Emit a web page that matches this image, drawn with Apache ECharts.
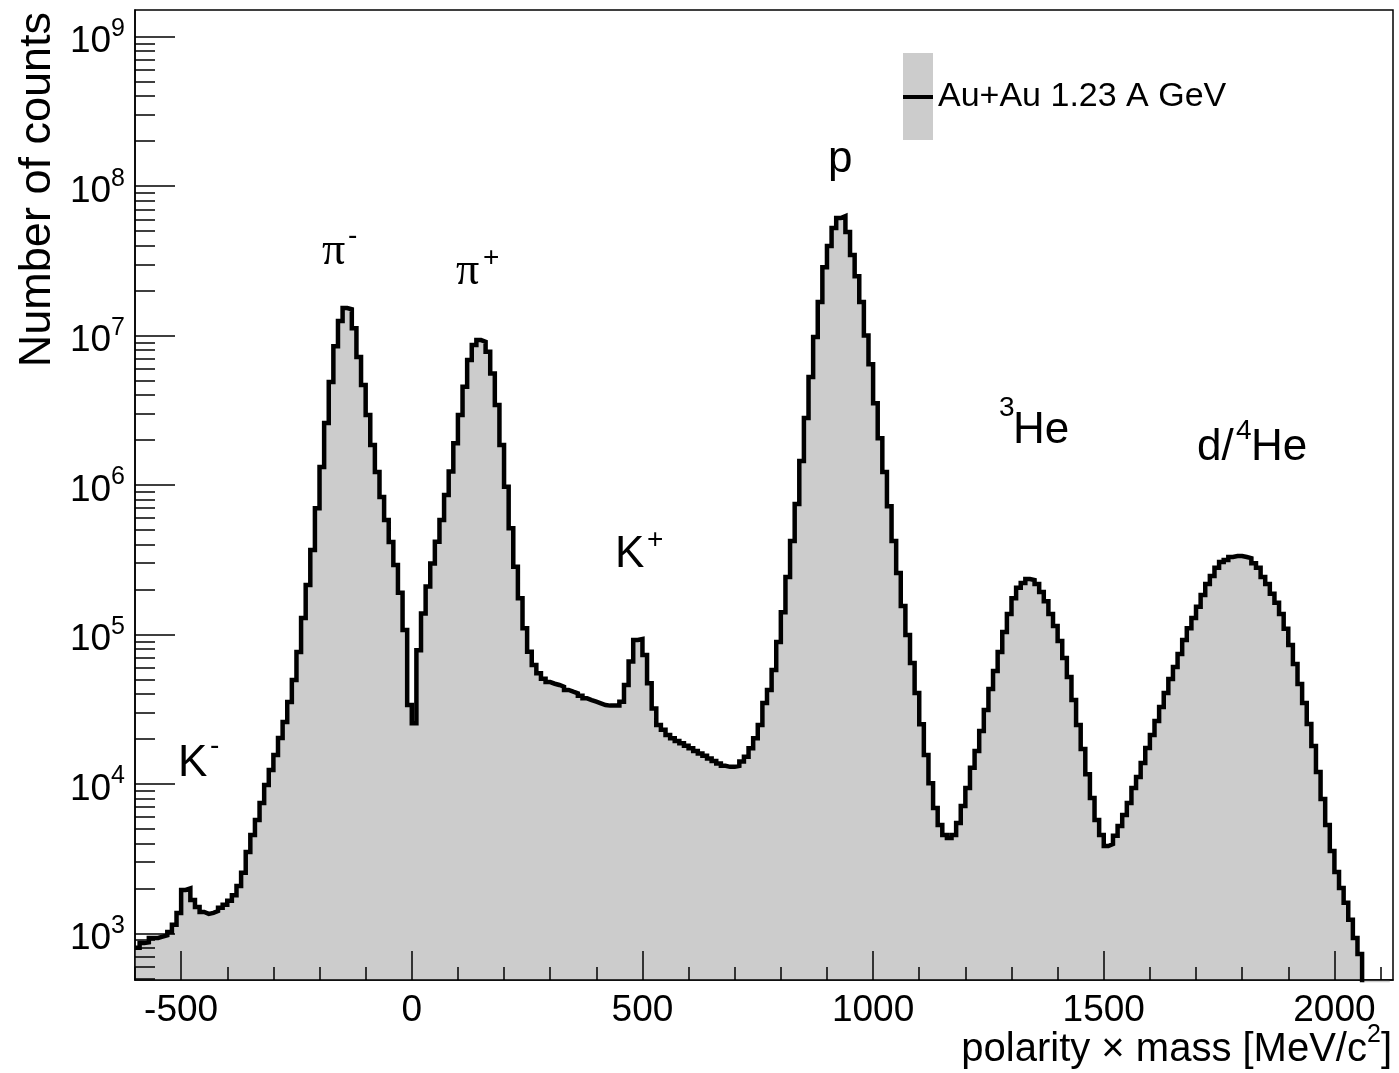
<!DOCTYPE html>
<html><head><meta charset="utf-8">
<script src="https://cdn.jsdelivr.net/npm/echarts@6/dist/echarts.min.js"></script>
<style>html,body{margin:0;padding:0;background:#fff}#c{width:1399px;height:1073px}</style>
</head><body><div id="c"></div>
<script>
// Histogram binning (10 MeV bins starting at -600)
const BIN_START = -600;
const BIN_WIDTH = 10;
// Counts per bin; trailing 1s = empty bins below the frame
const counts = [
  800, 860, 870, 930, 930, 950, 970, 1020, 1140, 1370,
  1950, 2000, 1670, 1500, 1390, 1350, 1370, 1410, 1480, 1550,
  1650, 1800, 2070, 2540, 3500, 4550, 5730, 7440, 9820, 12400,
  15600, 20300, 25900, 35300, 49500, 76300, 129000, 214000, 367000, 700000,
  1320000, 2600000, 4900000, 8500000, 12500000, 15300000, 15000000, 11200000, 7180000, 4670000,
  2940000, 1850000, 1220000, 832000, 583000, 416000, 292000, 190000, 107000, 33700,
  25500, 78500, 138000, 209000, 299000, 418000, 584000, 858000, 1230000, 1900000,
  2940000, 4550000, 6870000, 8650000, 9340000, 9100000, 7800000, 5580000, 3430000, 1850000,
  975000, 513000, 284000, 175000, 110000, 76600, 62400, 55000, 50500, 48000,
  46800, 45900, 44700, 42500, 41400, 40400, 38900, 37400, 36400, 35500,
  34600, 33700, 33400, 33400, 33400, 35500, 45900, 65800, 91900, 93300,
  72800, 47100, 32000, 24800, 23000, 21200, 20200, 19400, 18700, 18000,
  17300, 16600, 16000, 15400, 14800, 14200, 13700, 13200, 13000, 13000,
  13200, 14100, 15200, 17300, 20200, 24800, 34800, 42500, 57800, 89000,
  141000, 242000, 422000, 746000, 1450000, 2810000, 5280000, 9770000, 16800000, 28700000,
  39700000, 52500000, 61200000, 63100000, 49300000, 34600000, 25000000, 16800000, 10000000, 6440000,
  3530000, 2060000, 1220000, 722000, 422000, 258000, 155000, 99100, 64400, 40500,
  25100, 15600, 10100, 6890, 5310, 4550, 4340, 4550, 5470, 7110,
  9380, 12800, 16600, 22600, 31200, 43100, 56900, 76300, 104000, 137000,
  175000, 205000, 221000, 235000, 231000, 218000, 192000, 167000, 137000, 114000,
  90300, 69600, 51900, 36400, 24800, 17100, 11600, 8050, 5730, 4550,
  3840, 3960, 4490, 5220, 6190, 7450, 9380, 11100, 13800, 17400,
  21200, 26400, 32700, 40500, 50400, 60500, 73900, 91800, 110000, 129000,
  153000, 184000, 218000, 246000, 279000, 305000, 315000, 330000, 335000, 335000,
  330000, 324000, 300000, 279000, 242000, 218000, 187000, 163000, 137000, 109000,
  84900, 63400, 46600, 34800, 25200, 17900, 12000, 7920, 5310, 3560,
  2570, 2010, 1600, 1230, 931, 726, 1, 1, 1, 1,
  1, 1, 1
];
const seriesName = 'Au+Au 1.23 A GeV';
const xTickValues = [-500, 0, 500, 1000, 1500, 2000];
const yTickValues = [1e3, 1e4, 1e5, 1e6, 1e7, 1e8, 1e9];
const X_MIN = -600, X_MAX = 2127;
const Y_MIN = 487, Y_MAX = 1.51e9;
const xTitle = '{a|polarity × mass [MeV/c}{s|2}{a|]}';
const yTitle = 'Number of counts';

const FONT = 'Liberation Sans';
const binData = counts.map((c, i) => [BIN_START + i * BIN_WIDTH, c]);
const xMinorTicks = [];
for (let v = X_MIN; v <= X_MAX; v += 100) xMinorTicks.push(v);
const yMinorTicks = [];
for (let e = 2; e <= 8; e++) for (let m = 2; m <= 9; m++) {
  const v = m * Math.pow(10, e);
  if (v > Y_MIN && v < Y_MAX) yMinorTicks.push(v);
}
const tickLine = { color: '#000', width: 1.5 };

function txt(x, y, text, size, family) {
  return {
    type: 'text', x: x, y: y, z: 100,
    style: { text: text, fontSize: size, fontFamily: family || FONT, fill: '#000',
      align: 'left', verticalAlign: 'middle' }
  };
}
const SERIF = 'Liberation Serif';
const annotations = [
  txt(178, 764, 'K', 44), txt(210, 746, '-', 28),
  txt(322, 252, 'π', 46, SERIF), txt(348, 236, '-', 28),
  txt(456, 272, 'π', 46, SERIF), txt(483, 258, '+', 28),
  txt(615, 555, 'K', 44), txt(647, 540, '+', 28),
  txt(828, 160, 'p', 44),
  txt(999, 408, '3', 28), txt(1013, 431, 'He', 44),
  txt(1197, 448, 'd/', 44), txt(1236, 431, '4', 28), txt(1251, 448, 'He', 44)
];

const chart = echarts.init(document.getElementById('c'), null, { renderer: 'canvas' });
chart.setOption({
  animation: false,
  backgroundColor: '#fff',
  grid: { left: 135, right: 6, top: 10, bottom: 93, show: true, borderColor: '#000', borderWidth: 1.5,
    backgroundColor: 'transparent', containLabel: false, outerBoundsMode: 'none' },
  legend: {
    show: true, data: [seriesName], left: 903, top: 53, padding: 0, icon: 'rect',
    itemWidth: 30, itemHeight: 87, itemGap: 0, selectedMode: false,
    itemStyle: { color: '#cccccc', borderWidth: 0 },
    textStyle: { fontSize: 34, fontFamily: FONT, color: '#000' }
  },
  xAxis: [
    { type: 'value', min: X_MIN, max: X_MAX, position: 'bottom', z: 10,
      axisLine: { show: true, onZero: false, lineStyle: tickLine },
      axisTick: { show: true, inside: true, length: 29, customValues: xTickValues, lineStyle: tickLine },
      axisLabel: { show: true, customValues: xTickValues, margin: 12, color: '#000', fontSize: 37, fontFamily: FONT,
        formatter: v => String(v) },
      splitLine: { show: false } },
    { type: 'value', min: X_MIN, max: X_MAX, position: 'bottom', z: 10,
      axisLine: { show: false, onZero: false },
      axisTick: { show: true, inside: true, length: 13, customValues: xMinorTicks, lineStyle: tickLine },
      axisLabel: { show: false }, splitLine: { show: false } }
  ],
  yAxis: [
    { type: 'log', logBase: 10, min: Y_MIN, max: Y_MAX, position: 'left', z: 10,
      axisLine: { show: true, onZero: false, lineStyle: tickLine },
      axisTick: { show: true, inside: true, length: 40, customValues: yTickValues, lineStyle: tickLine },
      axisLabel: { show: true, customValues: yTickValues, margin: 10, color: '#000', padding: [4, 0, 0, 0],
        formatter: v => '{b|10}{s|' + Math.round(Math.log10(v)) + '}',
        rich: {
          b: { fontSize: 37, fontFamily: FONT, color: '#000', lineHeight: 44, verticalAlign: 'bottom' },
          s: { fontSize: 25, fontFamily: FONT, color: '#000', lineHeight: 25, verticalAlign: 'top' }
        } },
      splitLine: { show: false }, minorTick: { show: false } },
    { type: 'log', logBase: 10, min: Y_MIN, max: Y_MAX, position: 'left', z: 10,
      axisLine: { show: false, onZero: false },
      axisTick: { show: true, inside: true, length: 20, customValues: yMinorTicks, lineStyle: tickLine },
      axisLabel: { show: false }, splitLine: { show: false } }
  ],
  series: [{
    type: 'line', name: seriesName, data: binData, step: 'end', xAxisIndex: 0, yAxisIndex: 0,
    symbol: 'none', showSymbol: false, clip: true, z: 2,
    lineStyle: { color: '#000', width: 4.5, join: 'miter', cap: 'butt' },
    itemStyle: { color: '#cccccc' },
    areaStyle: { color: '#cccccc', opacity: 1, origin: 'start' }
  }],
  graphic: [
    { type: 'rect', z: 100, shape: { x: 903, y: 95, width: 30, height: 4 }, style: { fill: '#000' } },
    { type: 'text', z: 100, x: 1392, y: 1046,
      style: { text: xTitle, align: 'right', verticalAlign: 'middle', fill: '#000',
        rich: {
          a: { fontSize: 40, fontFamily: FONT, color: '#000', lineHeight: 47, verticalAlign: 'bottom' },
          s: { fontSize: 25, fontFamily: FONT, color: '#000', lineHeight: 25, verticalAlign: 'top' }
        } } },
    { type: 'text', z: 100, x: 38, y: 12, rotation: Math.PI / 2,
      style: { text: yTitle, fontSize: 45, fontFamily: FONT, fill: '#000', align: 'right', verticalAlign: 'middle' } }
  ].concat(annotations)
});
</script></body></html>
